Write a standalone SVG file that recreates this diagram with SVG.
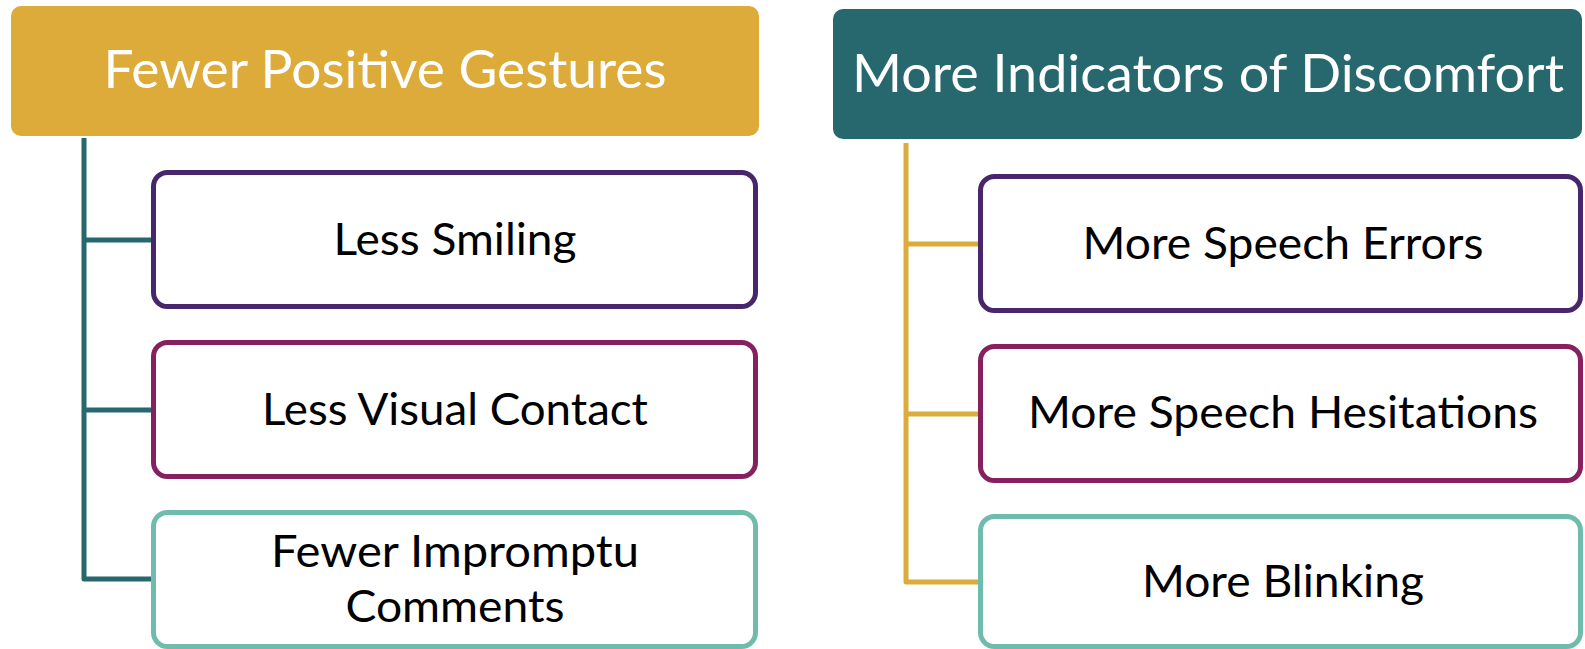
<svg xmlns="http://www.w3.org/2000/svg" width="1585" height="649" viewBox="0 0 1585 649">
  <style>
    .hdr-text { font-family: Lato, "Open Sans", "Liberation Sans", sans-serif; font-size: 53px; fill: #ffffff; text-anchor: middle; }
    .box-text { font-family: Lato, "Open Sans", "Liberation Sans", sans-serif; font-size: 45px; fill: #000000; text-anchor: middle; }
    .box { fill: #ffffff; stroke-width: 5; }
    .c1 { stroke: #48266B; }
    .c2 { stroke: #87205F; }
    .c3 { stroke: #6FBCAD; }
    .conn { fill: none; stroke-width: 5; stroke-linejoin: round; }
  </style>
  <rect width="1585" height="649" fill="#ffffff"/>

  <g id="connectors">
    <path class="conn" stroke="#27686E" d="M84,138 V579 H152 M84,240 H152 M84,410 H152"/>
    <path class="conn" stroke="#DCAB3A" d="M906,143 V582 H979 M906,244 H979 M906,414 H979"/>
  </g>

  <g id="header-left">
    <rect x="11" y="6" width="748" height="130" rx="10" fill="#DCAB3A"/>
    <text class="hdr-text" x="385" y="88" textLength="563" lengthAdjust="spacingAndGlyphs">Fewer Positive Gestures</text>
  </g>

  <g id="header-right">
    <rect x="833" y="9" width="749" height="130" rx="10" fill="#27686E"/>
    <text class="hdr-text" x="1208" y="92" textLength="712" lengthAdjust="spacingAndGlyphs">More Indicators of Discomfort</text>
  </g>

  <g id="less-smiling">
    <rect class="box c1" x="153.5" y="172.5" width="602" height="134" rx="14"/>
    <text class="box-text" x="455" y="255" textLength="243" lengthAdjust="spacingAndGlyphs">Less Smiling</text>
  </g>

  <g id="less-visual-contact">
    <rect class="box c2" x="153.5" y="342.5" width="602" height="134" rx="14"/>
    <text class="box-text" x="455" y="425" textLength="386" lengthAdjust="spacingAndGlyphs">Less Visual Contact</text>
  </g>

  <g id="fewer-impromptu-comments">
    <rect class="box c3" x="153.5" y="512.5" width="602" height="134" rx="14"/>
    <text class="box-text" x="455" y="567" textLength="368" lengthAdjust="spacingAndGlyphs">Fewer Impromptu</text>
    <text class="box-text" x="455" y="622" textLength="219" lengthAdjust="spacingAndGlyphs">Comments</text>
  </g>

  <g id="more-speech-errors">
    <rect class="box c1" x="980.5" y="176.5" width="600" height="134" rx="14"/>
    <text class="box-text" x="1283" y="259" textLength="401" lengthAdjust="spacingAndGlyphs">More Speech Errors</text>
  </g>

  <g id="more-speech-hesitations">
    <rect class="box c2" x="980.5" y="346.5" width="600" height="134" rx="14"/>
    <text class="box-text" x="1283" y="428" textLength="510" lengthAdjust="spacingAndGlyphs">More Speech Hesitations</text>
  </g>

  <g id="more-blinking">
    <rect class="box c3" x="980.5" y="516.5" width="600" height="130" rx="14"/>
    <text class="box-text" x="1283" y="597" textLength="282" lengthAdjust="spacingAndGlyphs">More Blinking</text>
  </g>
</svg>
